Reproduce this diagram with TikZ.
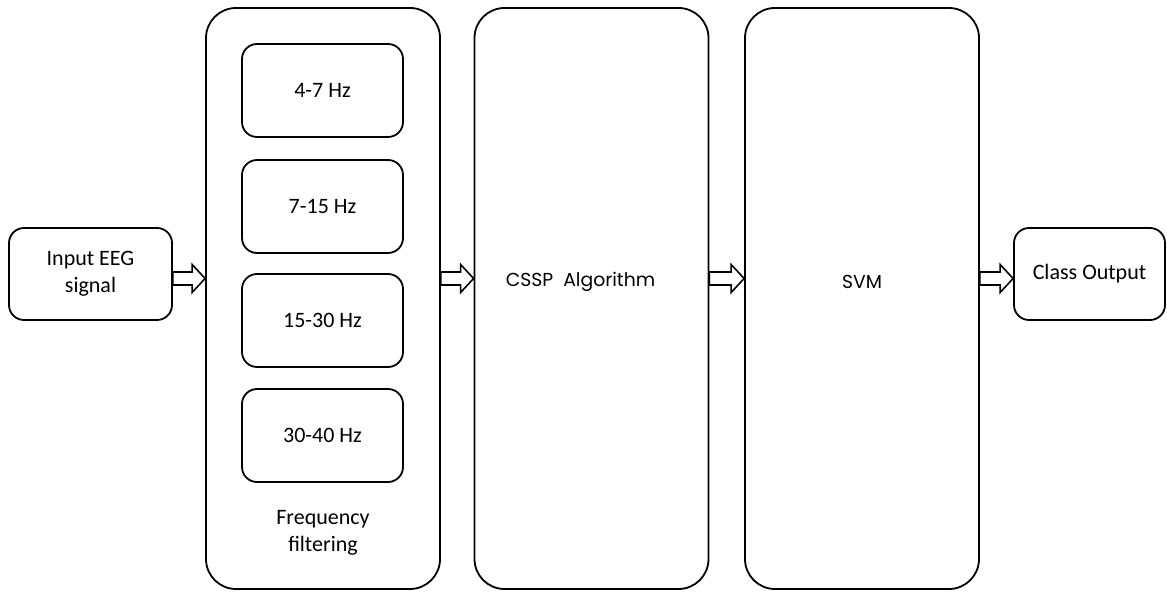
\documentclass[tikz,border=0pt]{standalone}
\usepackage{fontspec}
\setmainfont{Carlito}
\newfontfamily\geofont{Poppins}
\usetikzlibrary{positioning,calc}

% hollow block arrow from one box to the next, at the height of (ay)
\newcommand{\hollowarrow}[2]{%
  \draw[harrow] let \p1=(#1.east |- ay), \p2=(#2.west |- ay) in
    (\x1,\y1+3.25pt) -- (\x2-6.5pt,\y1+3.25pt) -- (\x2-6.5pt,\y1+7pt) -- (\x2,\y1)
    -- (\x2-6.5pt,\y1-7pt) -- (\x2-6.5pt,\y1-3.25pt) -- (\x1,\y1-3.25pt) -- cycle;}

\begin{document}
\begin{tikzpicture}[x=0.5pt, y=-0.5pt,
  every node/.style={font=\fontsize{11}{13.5}\selectfont},
  big/.style={draw, line width=0.9pt, rounded corners=15pt,
              minimum width=117pt, minimum height=290.5pt},
  band/.style={draw, line width=0.9pt, rounded corners=7.5pt,
               minimum width=80.5pt, minimum height=46.5pt},
  term/.style={draw, line width=0.9pt, rounded corners=7.5pt,
               minimum height=46pt, align=center},
  geo/.style={font=\geofont\fontsize{9.4}{11}\selectfont},
  harrow/.style={draw, line width=0.8pt, fill=white}]

  \useasboundingbox (0,0) rectangle (1167,592);
  \coordinate (ay) at (0,278.5);

  % input and output
  \node[term, minimum width=81.5pt] (in) at (90.5,274) {Input EEG\\signal};
  \node[term, minimum width=75.5pt] (out) at (1089.5,274) {Class Output};

  % frequency filtering bank
  \node[big] (freq) at (323,298.5) {};
  \node[band] (f1) at (322.5,90.5) {4-7 Hz};
  \node[band] (f2) at (322.5,206.5) {7-15 Hz};
  \node[band] (f3) at (322.5,320.5) {15-30 Hz};
  \node[band] (f4) at (322.5,435.5) {30-40 Hz};
  \node[align=center] (freqlb) at (323,533) {Frequency\\filtering};

  % CSSP and SVM stages
  \node[big] (cssp) at (591.5,298.5) {};
  \node[geo] (cssplb) at (580.5,282) {CSSP\ \ Algorithm};
  \node[big] (svm) at (862,298.5) {};
  \node[geo] (svmlb) at (862,282) {SVM};

  \hollowarrow{in}{freq}
  \hollowarrow{freq}{cssp}
  \hollowarrow{cssp}{svm}
  \hollowarrow{svm}{out}
\end{tikzpicture}
\end{document}
